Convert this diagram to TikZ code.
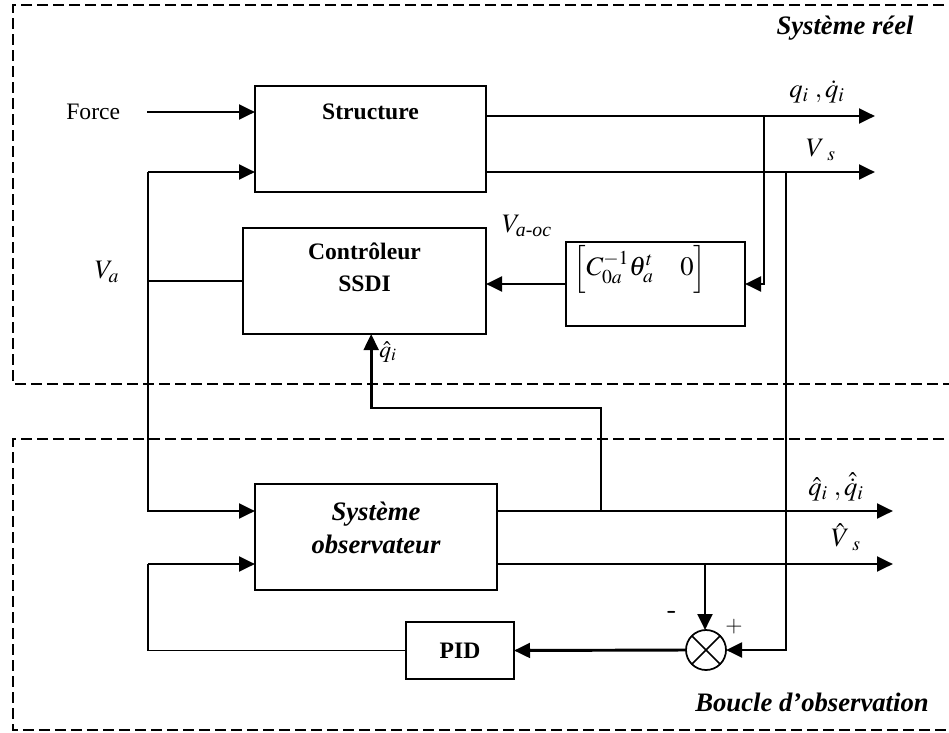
\documentclass[tikz,border=0pt]{standalone}
\usepackage{amsmath}
\usepackage{mathptmx}
\usepackage{fontspec}
\setmainfont{Liberation Serif}
\usetikzlibrary{arrows.meta,positioning}
\newcommand{\dfont}{\fontsize{17.7}{22}\selectfont}
\newcommand{\bigfont}{\fontsize{20}{25}\selectfont}

\begin{document}
\begin{tikzpicture}[x=0.75pt, y=-0.75pt, font=\dfont,
    block/.style={rectangle, draw, line width=1.3pt, inner sep=0pt, outer sep=0pt},
    line/.style={draw, -{Triangle[length=12pt,width=11pt]}, line width=2.2pt},
    thinlink/.style={draw, line width=1.3pt},
    frame/.style={draw, line width=1.7pt, dash pattern=on 8pt off 4pt},
    sumnode/.style={circle, draw, line width=1.3pt, minimum size=30pt, inner sep=0pt, outer sep=0pt},
    txt/.style={inner sep=0pt}]

    \useasboundingbox (0,0) rectangle (949,732);
    \clip (0,0) rectangle (949,732);

    % Frames
    \draw[frame] (960,5) -- (13,5) -- (13,384) -- (960,384);
    \draw[frame] (960,439) -- (13,439) -- (13,730) -- (960,730);

    % Nodes
    \node[block, minimum width=173.25pt, minimum height=79.5pt] (struct) at (370.5,139) {};
    \node[block, minimum width=182.25pt, minimum height=79.5pt] (ctrl) at (364.5,281) {};
    \node[block, minimum width=134.25pt, minimum height=63pt] (gain) at (655.5,284) {};
    \node[block, minimum width=181.5pt, minimum height=79.5pt] (obs) at (376,537) {};
    \node[block, minimum width=81pt, minimum height=42.75pt, font=\dfont\bfseries] (pid) at (460,650.5) {PID};
    \node[sumnode] (sum) at (706,650) {};
    \draw[line width=1.3pt] (sum.north east) -- (sum.south west) (sum.north west) -- (sum.south east);

    % Texts in the blocks
    \node[txt, font=\dfont\bfseries] (structtxt) at (370.5,112) {Structure};
    \node[txt, align=center, font=\dfont\bfseries] (ctrltxt) at (364.5,267.5) {Contrôleur\\[2pt]SSDI};
    \node[txt] (gaintxt) at (640,269) {\bigfont$\Bigl[C_{0a}^{-1}\theta_a^{t}\quad 0\Bigr]$};
    \node[txt, align=center, font=\bigfont\bfseries\itshape] (obstxt) at (376,528) {Système\\observateur};

    % Coordinates
    \coordinate (forcein) at (147,112);
    \coordinate (vatop) at (148,172);
    \coordinate (vabot) at (148,511);
    \coordinate (fbin) at (148,564);
    \coordinate (qout) at (875,116);
    \coordinate (vsout) at (875,172);
    \coordinate (qtap) at (764,116);
    \coordinate (vstap) at (786,172);
    \coordinate (qhout) at (893,511);
    \coordinate (vhout) at (893,564);
    \coordinate (qhtap) at (601,511);
    \coordinate (qhbend) at (601,408);
    \coordinate (vhtap) at (705,564);

    % Edges
    \path [line] (forcein) -- (forcein -| struct.west);
    \path [line] (vatop) -- (vatop -| struct.west);
    \path [line] (vatop) -- (vabot) -- (vabot -| obs.west);
    \path [thinlink] (vatop |- ctrl.west) -- (ctrl.west);
    \path [line] (qout -| struct.east) -- (qout);
    \path [line] (vsout -| struct.east) -- (vsout);
    \path [line] (qtap) |- (gain.east);
    \path [line] (gain.west) -- (gain.west -| ctrl.east);
    \path [line] (vstap) |- (sum.east);
    \path [line] (qhout -| obs.east) -- (qhout);
    \path [line] (vhout -| obs.east) -- (vhout);
    \path [line] (qhtap) -- (qhbend) -| ([xshift=5pt]ctrl.south);
    \path [line] (vhtap) -- (vhtap |- sum.north);
    \path [line] (sum.west) -- (pid.east);
    \path [thinlink] (pid.west) -| (fbin);
    \path [line] (fbin) -- (fbin -| obs.west);

    % Labels
    \node[txt, left=20pt of forcein] (forcetxt) {Force};
    \node[txt] (valbl) at (107,272) {\bigfont$V_a$};
    \node[txt] (vaoclbl) at (527,226) {\bigfont$V_{\textit{a-oc}}$};
    \node[txt] (qlbl) at (817,92) {\bigfont$q_i\;,\dot{q}_i$};
    \node[txt] (vslbl) at (821,150) {\bigfont$V\,{}_s$};
    \node[txt] (qhlbl) at (388,352) {$\hat{q}_i$};
    \node[txt] (qhoutlbl) at (836,487) {\bigfont$\hat{q}_i\;,\hat{\dot{q}}_i$};
    \node[txt] (vhlbl) at (846,537) {\bigfont$\hat{V}\,{}_s$};
    \node[txt, font=\bigfont\sffamily\bfseries] (minus) at (672,615) {-};
    \node[txt, font=\dfont\sffamily] (plus) at (734,627) {+};

    % Annotations
    \node[txt, font=\bigfont\bfseries\itshape] (reel) at (845,28) {Système réel};
    \node[txt, font=\bigfont\bfseries\itshape] (boucle) at (812,702) {Boucle d'observation};
\end{tikzpicture}
\end{document}
